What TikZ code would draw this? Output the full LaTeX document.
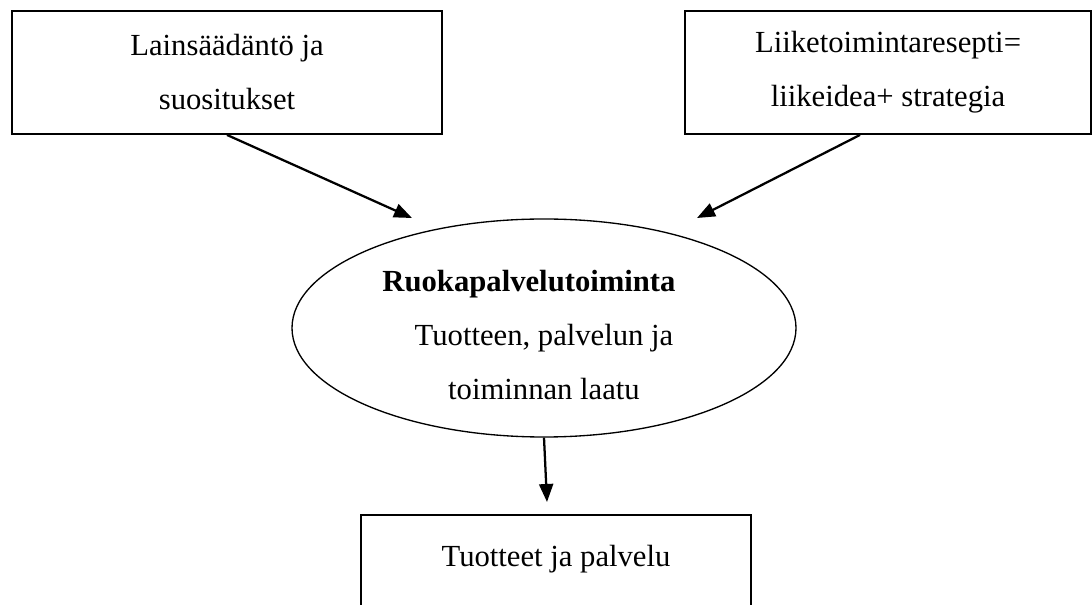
\documentclass[tikz,border=0pt]{standalone}
\usepackage{fontspec}
\setmainfont{Liberation Serif}
\usetikzlibrary{arrows.meta, shapes.geometric}

\begin{document}
\begin{tikzpicture}[x = 0.75pt, y = -0.75pt,
    boxstyle/.style={draw,line width=1.4pt,rectangle,align=center,inner sep=0pt,minimum height=92.25pt,font=\fontsize{23}{40.5}\selectfont},
    arrstyle/.style={line width=1.7pt,-{Triangle[length=13.5pt,width=10.5pt]}}]
    \clip (0,0) rectangle (1092,605);
    \node[boxstyle,minimum width=322.5pt] (laki) at (227,72.5) {Lainsäädäntö ja\\suositukset};
    \node[boxstyle,minimum width=304.5pt] (resepti) at (888,72.5) {Liiketoimintaresepti=\\liikeidea+ strategia};
    \node[draw,ellipse,line width=1pt,inner sep=0pt,minimum width=378pt,minimum height=163.5pt,align=center,
    font=\fontsize{23}{40.5}\selectfont] (ruoka) at (544,328)
    {\rule{0pt}{26.5pt}\textbf{Ruokapalvelutoiminta}\hspace*{22.5pt}\\Tuotteen, palvelun ja\\toiminnan laatu};
    \node[boxstyle,minimum width=292.5pt,minimum height=93.75pt] (tuote) at (556,577.5) {Tuotteet ja palvelu\\[-8pt]\mbox{}};
    \coordinate (p1) at (412,218);
    \coordinate (p2) at (697,218);
    \coordinate (p3) at (547,502);
    \draw[arrstyle] (laki.south) -- (p1);
    \draw[arrstyle] ([xshift=-21pt]resepti.south) -- (p2);
    \draw[arrstyle] (ruoka.south) -- (p3);
\end{tikzpicture}
\end{document}
